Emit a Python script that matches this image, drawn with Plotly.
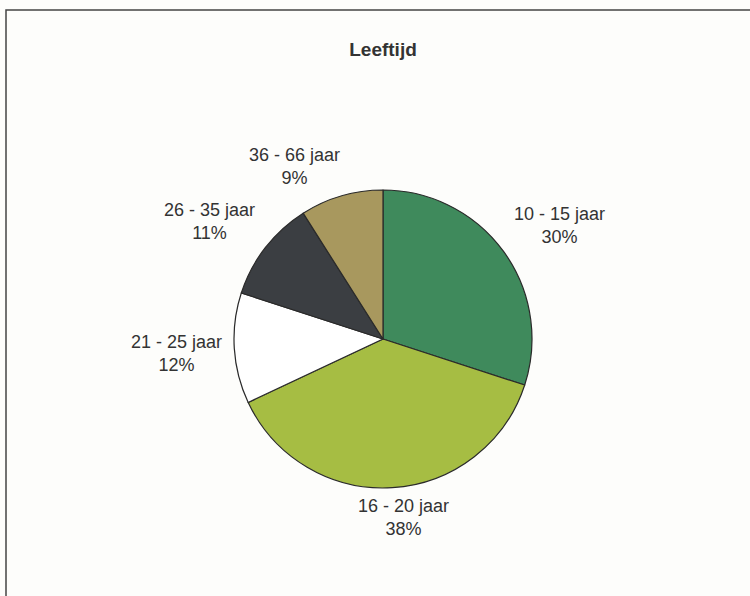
import math
import plotly.graph_objects as go

categories = ["10 - 15 jaar", "16 - 20 jaar", "21 - 25 jaar", "26 - 35 jaar", "36 - 66 jaar"]
values = [30, 38, 12, 11, 9]
colors = ["#3f8a5c", "#a6bd43", "#ffffff", "#3b3e42", "#a8985e"]
title_text = "Leeftijd"

W, H = 750, 596
cx, cy, R = 383, 339, 149  # pie centre / radius in pixels

fig = go.Figure()
fig.add_trace(go.Pie(
    labels=categories,
    values=values,
    sort=False,
    direction="clockwise",
    rotation=0,
    marker=dict(colors=colors, line=dict(color="#2a2a2a", width=1.2)),
    textinfo="none",
    hoverinfo="label+percent",
    showlegend=False,
    domain=dict(x=[(cx - R) / W, (cx + R) / W], y=[(H - cy - R) / H, (H - cy + R) / H]),
))

# data labels placed outside each slice, at the slice's mid-angle
total = sum(values)
cum = 0.0
hw, hh, gap, t = 48, 20, 10, 0.3
for cat, v in zip(categories, values):
    mid = (cum + v / 2) / total * 2 * math.pi
    cum += v
    s, c = math.sin(mid), math.cos(mid)
    ax = (R + gap) * s
    ay = -(R + gap) * c
    ox = hw * math.copysign(min(1.0, abs(s) / t), s)
    oy = -hh * math.copysign(min(1.0, abs(c) / t), c)
    px = cx + ax + ox
    py = cy + ay + oy
    fig.add_annotation(
        x=px / W, y=1 - py / H, xref="paper", yref="paper",
        text=f"{cat}<br>{round(v / total * 100)}%",
        showarrow=False, xanchor="center", yanchor="middle",
        font=dict(family="Liberation Sans, Arial", size=18, color="#333333"),
    )

fig.add_shape(type="rect", xref="paper", yref="paper",
              x0=6 / W, x1=1.02, y0=-0.02, y1=1 - 10 / H,
              line=dict(color="#444444", width=1.5))

fig.update_layout(
    width=W, height=H,
    margin=dict(l=0, r=0, t=0, b=0),
    paper_bgcolor="#fdfdfb",
    plot_bgcolor="#fdfdfb",
    title=dict(text=f"<b>{title_text}</b>", x=383 / W, xanchor="center",
               y=1 - 49 / H, yanchor="middle",
               font=dict(family="Liberation Sans, Arial", size=19, color="#333333")),
)

fig.write_html("out.html", config={"displayModeBar": False},
               post_script="document.body.style.margin='0';")
